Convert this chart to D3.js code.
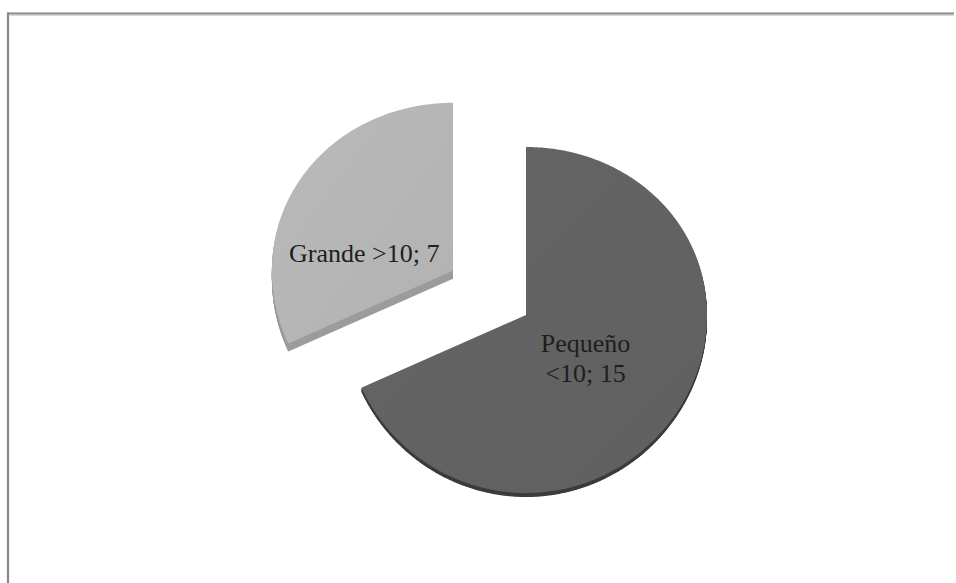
<!DOCTYPE html>
<html>
<head>
<meta charset="utf-8">
<script src="https://cdn.jsdelivr.net/npm/d3@7"></script>
<style>
  html, body { margin: 0; padding: 0; background: #ffffff; }
</style>
</head>
<body>
<svg id="chart" width="956" height="583" font-family="Liberation Serif"></svg>
<script>
// Company size split: small (<10) vs large (>10)
const categories = ["Pequeño <10", "Grande >10"];
const values = [15, 7];

// Visual settings
const faceColors = ["#626262", "#b5b5b5"];
const wallColors = ["#3c3c3c", "#9c9c9c"];
const wallDepth = [4, 8];
const explode = [0, 0.48];
const labelWrap = [true, false];
const labelAngleShift = [4, -21];  // degrees, relative to slice mid-angle
const labelRadius = [0.41, 0.5];

const W = 956, H = 583;
const cx = 526, cy = 315;       // pie centre on screen
const RX = 181, RY = 173, PERSP = 5;

const svg = d3.select("#chart");

// Chart frame: top and left edges
svg.append("line")
  .attr("x1", 7).attr("x2", W - 2).attr("y1", 13.5).attr("y2", 13.5)
  .attr("stroke", "#888888").attr("stroke-width", 2.2);
svg.append("line")
  .attr("x1", 8).attr("x2", 8).attr("y1", 12.4).attr("y2", H)
  .attr("stroke", "#888888").attr("stroke-width", 2.2);
svg.append("line")
  .attr("x1", 9.5).attr("x2", W - 2).attr("y1", 15.2).attr("y2", 15.2)
  .attr("stroke", "#c4c4c4").attr("stroke-width", 1);

// Tilted-disc projection: angle measured clockwise from 12 o'clock
function proj(ox, oy, f, a) {
  const s = Math.sin(a), c = Math.cos(a);
  return [ox + f * RX * s, oy - f * (RY - PERSP * c) * c];
}

const pie = d3.pie().sort(null).value(d => d)(values);

const slices = pie.map((p, i) => {
  const mid = (p.startAngle + p.endAngle) / 2;
  const off = proj(0, 0, explode[i], mid);
  return { p, i, mid, ox: cx + off[0], oy: cy + off[1] };
});

function slicePath(s, dy) {
  const pts = [[s.ox, s.oy + dy]];
  const a0 = s.p.startAngle, a1 = s.p.endAngle;
  const n = Math.max(2, Math.ceil((a1 - a0) / (Math.PI / 360)));
  for (let k = 0; k <= n; k++) {
    const a = a0 + (a1 - a0) * k / n;
    const q = proj(s.ox, s.oy, 1, a);
    pts.push([q[0], q[1] + dy]);
  }
  return d3.line()(pts) + "Z";
}

const defs = svg.append("defs");
slices.forEach(s => {
  const base = d3.color(faceColors[s.i]);
  const g = defs.append("linearGradient")
    .attr("id", "face" + s.i)
    .attr("x1", "0%").attr("y1", "0%").attr("x2", "100%").attr("y2", "100%");
  g.append("stop").attr("offset", "0%").attr("stop-color", base.brighter(0.08));
  g.append("stop").attr("offset", "100%").attr("stop-color", base.darker(0.05));
});

// Side walls: sweep each slice downward by its depth
const gSlices = svg.append("g");
slices.forEach(s => {
  const g = gSlices.append("g");
  for (let d = wallDepth[s.i]; d >= 1; d -= 0.5) {
    g.append("path")
      .attr("d", slicePath(s, d))
      .attr("fill", wallColors[s.i]);
  }
  g.append("path")
    .attr("d", slicePath(s, 0))
    .attr("fill", `url(#face${s.i})`);
});

// Data labels: "name; value"
const fontSize = 26;
slices.forEach(s => {
  const a = s.mid + labelAngleShift[s.i] * Math.PI / 180;
  const [lx, ly] = proj(s.ox, s.oy, labelRadius[s.i], a);
  const text = categories[s.i] + "; " + values[s.i];
  let lines;
  if (labelWrap[s.i]) {
    const k = text.indexOf(" ");
    lines = [text.slice(0, k), text.slice(k + 1)];
  } else {
    lines = [text];
  }
  const lh = 30;
  lines.forEach((ln, j) => {
    svg.append("text")
      .attr("x", lx)
      .attr("y", ly + (j - (lines.length - 1) / 2) * lh + fontSize * 0.35)
      .attr("font-family", "Liberation Serif")
      .style("font-family", '"Liberation Serif", serif')
      .style("font-size", fontSize + "px")
      .attr("text-anchor", "middle")
      .attr("fill", "#1e1e1e")
      .text(ln);
  });
});
</script>
</body>
</html>
